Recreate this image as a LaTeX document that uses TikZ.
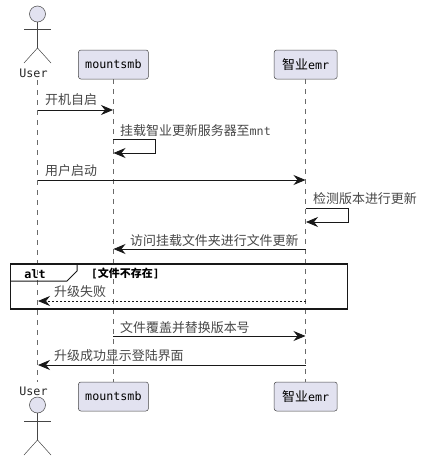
\documentclass[tikz,border=0pt]{standalone}
\usepackage{fontspec}
\setmonofont{DejaVu Sans Mono}
\newfontfamily\cjk{Noto Sans CJK SC}
\usetikzlibrary{arrows.meta}
\definecolor{partfill}{HTML}{E2E2F0}
\definecolor{partline}{HTML}{181818}
\definecolor{lifeline}{HTML}{6A6A6A}
\tikzset{
  part/.style={draw=partline!80,fill=partfill,rounded corners=2.5pt,line width=0.5pt,minimum height=29pt,inner sep=0pt},
  head/.style={circle,draw=partline!80,fill=partfill,line width=0.5pt,minimum size=16pt,inner sep=0pt},
  txt/.style={anchor=west,inner sep=0pt,font=\fontsize{12.95}{14}\cjk,text=black!72},
  lbl/.style={inner sep=0pt,font=\fontsize{11.7}{14}\ttfamily,text=black!85},
  life/.style={draw=lifeline,line width=0.5pt,dash pattern=on 5pt off 5pt},
  msg/.style={draw=partline,line width=0.8pt,-{Stealth[length=12pt,width=10pt,inset=4pt,fill=partline]}},
  limb/.style={draw=partline!80,line width=0.5pt}
}
\begin{document}
\begin{tikzpicture}[x=1pt,y=-1pt]
\useasboundingbox (0,0) rectangle (423,461);
\fill[white] (0,0) rectangle (423,461);
\path node[lbl,minimum height=14pt] (Ut) at (33.5,73) {User}
node[lbl,minimum height=14pt] (Ub) at (33.5,391) {User}
node[part,minimum width=70pt,font=\fontsize{11.7}{14}\ttfamily] (Mt) at (113.4,64.5) {mountsmb}
node[part,minimum width=70pt,font=\fontsize{11.7}{14}\ttfamily] (Mb) at (113.4,396.5) {mountsmb}
node[part,minimum width=63pt,font=\fontsize{11.7}{14}\ttfamily] (Et) at (305.7,64.5) {{\cjk\fontsize{12.95}{14}\selectfont 智业}emr}
node[part,minimum width=63pt,font=\fontsize{11.7}{14}\ttfamily] (Eb) at (305.7,396.5) {{\cjk\fontsize{12.95}{14}\selectfont 智业}emr}
node[head] (Ht) at (37.5,14) {}
node[head] (Hb) at (37.5,405) {}
;
% lifelines
\coordinate (Us) at (37.5,80);
\coordinate (Ue) at (37.5,382);
\draw[life] (Us) -- (Ue);
\draw[life] (Mt) -- (Mb);
\draw[life] (Et) -- (Eb);
% actors
\coordinate (Bt) at (37.5,48);
\coordinate (Lt) at (24,63);
\coordinate (Rt) at (51,63);
\coordinate (At) at (24,29);
\coordinate (Ct) at (51,29);
\draw[limb] (Ht) -- (Bt);
\draw[limb] (At) -- (Ct);
\draw[limb] (Lt) -- (Bt) -- (Rt);
\coordinate (Bb) at (37.5,440);
\coordinate (Lb) at (24,455);
\coordinate (Rb) at (51,455);
\coordinate (Ab) at (24,421);
\coordinate (Cb) at (51,421);
\draw[limb] (Hb) -- (Bb);
\draw[limb] (Ab) -- (Cb);
\draw[limb] (Lb) -- (Bb) -- (Rb);
% messages
\coordinate (U1) at (37.5,110);
\coordinate (M1) at (113,110);
\draw[msg] (U1) -- (M1);
\node[txt] (T1) at (45,100) {开机自启};
\coordinate (M2) at (113,139);
\coordinate (S2) at (155.5,139);
\coordinate (R2) at (155.5,153);
\coordinate (N2) at (113.5,153);
\draw[msg] (M2) -- (S2) -- (R2) -- (N2);
\node[txt] (T2) at (120,131) {挂载智业更新服务器至{\fontsize{11.7}{14}\ttfamily mnt}};
\coordinate (U3) at (37.5,180);
\coordinate (E3) at (305.5,180);
\draw[msg] (U3) -- (E3);
\node[txt] (T3) at (45,171) {用户启动};
\coordinate (E4) at (305.5,208);
\coordinate (S4) at (348.5,208);
\coordinate (R4) at (348.5,222);
\coordinate (N4) at (306,222);
\draw[msg] (E4) -- (S4) -- (R4) -- (N4);
\node[txt] (T4) at (313,199) {检测版本进行更新};
\coordinate (E5) at (305.5,249);
\coordinate (M5) at (113.5,249);
\draw[msg] (E5) -- (M5);
\node[txt] (T5) at (130,241) {访问挂载文件夹进行文件更新};
% alt frame
\draw[partline,line width=1.8pt] (10.5,264) rectangle (347.5,309);
\draw[partline,line width=1pt] (10.5,281) -- (67,281) -- (77,271) -- (77,264);
\node[lbl,font=\fontsize{11.7}{14}\ttfamily\bfseries,text=black] (Alt) at (35,274) {alt};
\node[txt,font=\fontsize{11}{14}\ttfamily\bfseries,text=black] (Guard) at (91,273) {[{\cjk\bfseries 文件不存在}]};
\coordinate (E6) at (305.5,301);
\coordinate (U6) at (38,301);
\draw[msg,dash pattern=on 2pt off 2pt] (E6) -- (U6);
\node[txt] (T6) at (54,292) {升级失败};
\coordinate (M7) at (113,336);
\coordinate (E7) at (305.5,336);
\draw[msg] (M7) -- (E7);
\node[txt] (T7) at (120,328) {文件覆盖并替换版本号};
\coordinate (E8) at (305.5,365);
\coordinate (U8) at (38,365);
\draw[msg] (E8) -- (U8);
\node[txt] (T8) at (54,356) {升级成功显示登陆界面};
\end{tikzpicture}
\end{document}
